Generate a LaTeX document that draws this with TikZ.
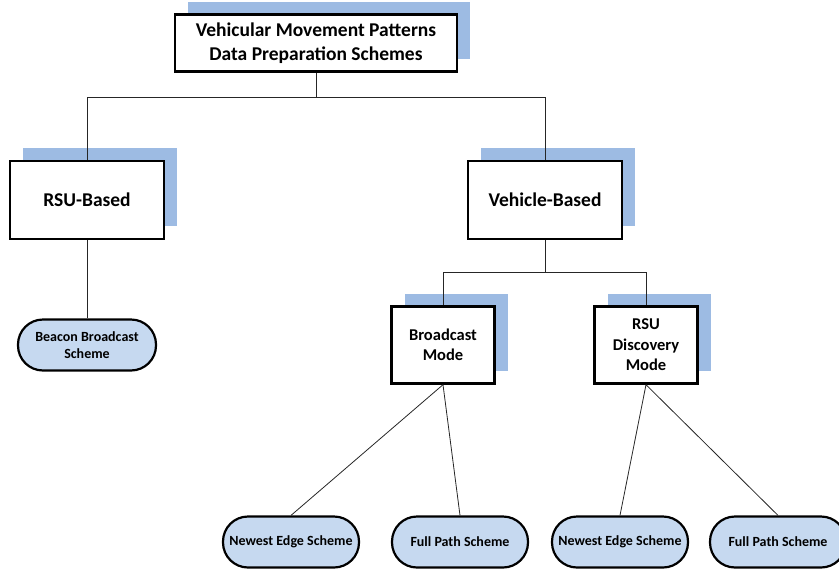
\documentclass[tikz,border=0pt]{standalone}
\usepackage{fontspec}
\setmainfont{Carlito}
\usetikzlibrary{shadows,positioning}

\definecolor{shadowblue}{HTML}{9DBBE3}
\definecolor{leafblue}{HTML}{C6D9F0}

\tikzset{
	mainbox/.style={draw=black, line width=2.4pt, fill=white, minimum width=154pt, minimum height=78pt, align=center, font=\fontsize{19.5}{24}\selectfont\bfseries, general shadow={shadow xshift=13pt, shadow yshift=13pt, fill=shadowblue}},
	modebox/.style={mainbox, minimum width=103pt, minimum height=77pt, font=\fontsize{16.5}{20.5}\selectfont\bfseries},
	leaf/.style={draw=black, line width=2.2pt, fill=leafblue, rounded corners=25pt, minimum width=136pt, minimum height=51pt, align=center, font=\fontsize{14}{17}\selectfont\bfseries},
	link/.style={draw=black!85, line width=0.8pt}
}

\begin{document}
\begin{tikzpicture}[x=1pt,y=-1pt]
	\useasboundingbox (0,0) rectangle (839,571);

	% top level
	\node[mainbox, minimum width=282pt, minimum height=57pt] (top) at (316,43) {Vehicular Movement Patterns\\Data Preparation Schemes};

	% second level
	\node[mainbox] (rsu) at (87,200) {RSU-Based};
	\node[mainbox] (veh) at (545,200) {Vehicle-Based};

	% modes
	\node[modebox] (bcast) at (443,345) {Broadcast\\Mode};
	\node[modebox] (disc) at (646,345) {RSU\\Discovery\\Mode};

	% schemes
	\node[leaf, minimum width=138pt] (beacon) at (87,345) {Beacon Broadcast\\Scheme};
	\node[leaf] (newA) at (291,542) {Newest Edge Scheme};
	\node[leaf] (fullA) at (460,542) {Full Path Scheme};
	\node[leaf] (newB) at (620,542) {Newest Edge Scheme};
	\node[leaf] (fullB) at (778,542) {Full Path Scheme};

	% connectors
	\coordinate (jtop) at (316,97);
	\coordinate (jveh) at (545,272);
	\draw[link] (top.south) -- (jtop);
	\draw[link] (jtop) -| (rsu.north);
	\draw[link] (jtop) -| (veh.north);
	\draw[link] (rsu.south) -- (beacon.north);
	\draw[link] (veh.south) -- (jveh);
	\draw[link] (jveh) -| (bcast.north);
	\draw[link] (jveh) -| (disc.north);
	\draw[link] (bcast.south) -- (newA.north);
	\draw[link] (bcast.south) -- (fullA.north);
	\draw[link] (disc.south) -- (newB.north);
	\draw[link] (disc.south) -- (fullB.north);
\end{tikzpicture}
\end{document}
